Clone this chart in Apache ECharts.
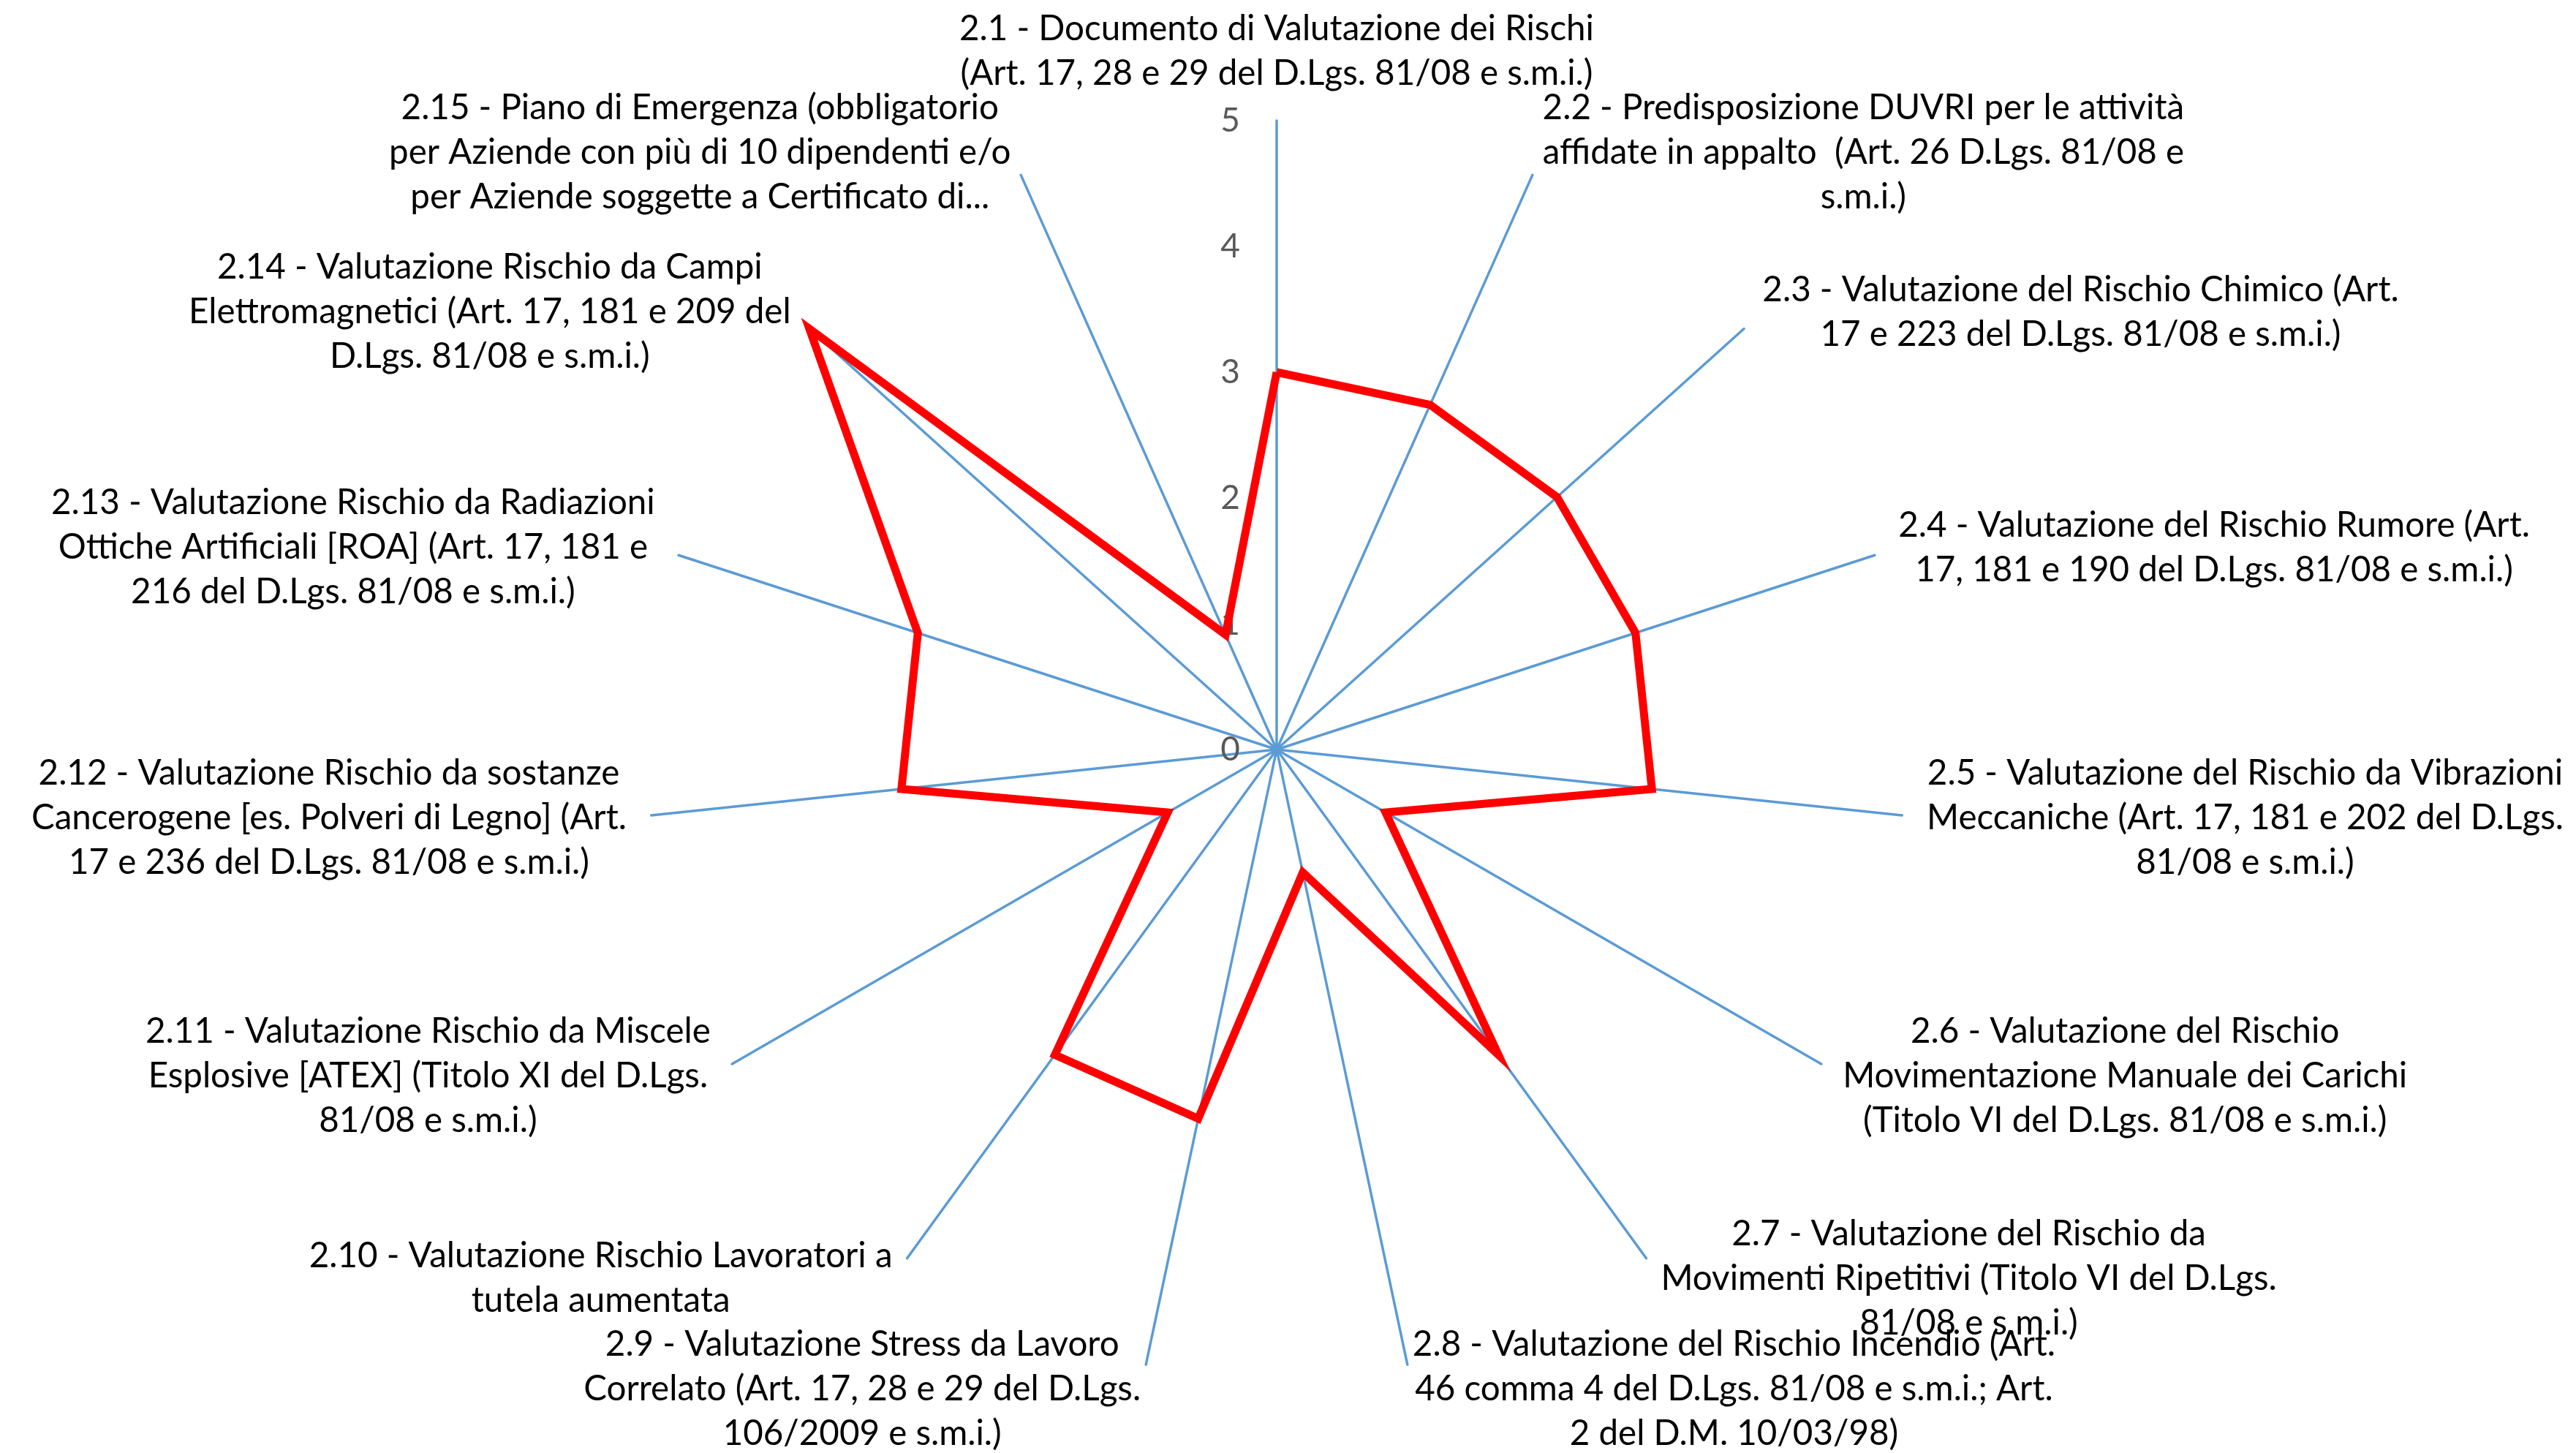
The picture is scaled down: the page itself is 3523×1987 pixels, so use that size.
<!DOCTYPE html>
<html>
<head>
<meta charset="utf-8">
<script src="https://cdn.jsdelivr.net/npm/echarts@6/dist/echarts.min.js"></script>
<style>
html,body{margin:0;padding:0;background:#ffffff;}
#chart{width:3523px;height:1987px;}
</style>
</head>
<body>
<div id="chart"></div>
<script>
// ---- Data (clockwise order starting at top) ----
const categories = [
  "2.1 - Documento di Valutazione dei Rischi\n(Art. 17, 28 e 29 del D.Lgs. 81/08 e s.m.i.)",
  "2.2 - Predisposizione DUVRI per le attività\naffidate in appalto  (Art. 26 D.Lgs. 81/08 e\ns.m.i.)",
  "2.3 - Valutazione del Rischio Chimico (Art.\n17 e 223 del D.Lgs. 81/08 e s.m.i.)",
  "2.4 - Valutazione del Rischio Rumore (Art.\n17, 181 e 190 del D.Lgs. 81/08 e s.m.i.)",
  "2.5 - Valutazione del Rischio da Vibrazioni\nMeccaniche (Art. 17, 181 e 202 del D.Lgs.\n81/08 e s.m.i.)",
  "2.6 - Valutazione del Rischio\nMovimentazione Manuale dei Carichi\n(Titolo VI del D.Lgs. 81/08 e s.m.i.)",
  "2.7 - Valutazione del Rischio da\nMovimenti Ripetitivi (Titolo VI del D.Lgs.\n81/08 e s.m.i.)",
  "2.8 - Valutazione del Rischio Incendio (Art.\n46 comma 4 del D.Lgs. 81/08 e s.m.i.; Art.\n2 del D.M. 10/03/98)",
  "2.9 - Valutazione Stress da Lavoro\nCorrelato (Art. 17, 28 e 29 del D.Lgs.\n106/2009 e s.m.i.)",
  "2.10 - Valutazione Rischio Lavoratori a\ntutela aumentata",
  "2.11 - Valutazione Rischio da Miscele\nEsplosive [ATEX] (Titolo XI del D.Lgs.\n81/08 e s.m.i.)",
  "2.12 - Valutazione Rischio da sostanze\nCancerogene [es. Polveri di Legno] (Art.\n17 e 236 del D.Lgs. 81/08 e s.m.i.)",
  "2.13 - Valutazione Rischio da Radiazioni\nOttiche Artificiali [ROA] (Art. 17, 181 e\n216 del D.Lgs. 81/08 e s.m.i.)",
  "2.14 - Valutazione Rischio da Campi\nElettromagnetici (Art. 17, 181 e 209 del\nD.Lgs. 81/08 e s.m.i.)",
  "2.15 - Piano di Emergenza (obbligatorio\nper Aziende con più di 10 dipendenti e/o\nper Aziende soggette a Certificato di..."
];
const values = [3, 3, 3, 3, 3, 1, 3, 1, 3, 3, 1, 3, 3, 5, 1];
const axisMin = 0;
const axisMax = 5;
const tickLabels = ["0", "1", "2", "3", "4", "5"];

// ECharts radar runs counter-clockwise; reorder so the picture runs clockwise.
const order = [0];
for (let i = categories.length - 1; i >= 1; i--) order.push(i);

const FONT = "Lato";
const indicators = order.map(function (i, k) {
  const ind = { name: categories[i], min: axisMin, max: axisMax };
  if (k === 0) {
    ind.axisLabel = {
      show: true,
      color: "#595959",
      fontSize: 46,
      fontFamily: FONT,
      margin: 50,
      formatter: function (v) { return tickLabels[Math.round(v)]; }
    };
  }
  return ind;
});
const seriesValues = order.map(function (i) { return values[i]; });

const chart = echarts.init(document.getElementById("chart"), null, { renderer: "canvas" });
const option = {
  backgroundColor: "#ffffff",
  animation: false,
  radar: {
    center: [1746, 1025],
    radius: 860,
    startAngle: 90,
    splitNumber: 5,
    indicator: indicators,
    nameGap: 34,
    axisName: {
      color: "#000000",
      fontSize: 47.5,
      fontFamily: FONT,
      lineHeight: 61,
      formatter: function (v) {
        return v.split("\n").map(function (l) { return "{c|" + l + "}"; }).join("\n");
      },
      rich: {
        c: { align: "center", fontSize: 47.5, fontFamily: FONT, lineHeight: 61, color: "#000000" }
      }
    },
    axisLine: { show: true, lineStyle: { color: "#5B9BD5", width: 3.5 } },
    axisTick: { show: false },
    axisLabel: { show: false },
    splitLine: { show: false },
    splitArea: { show: false }
  },
  series: [{
    type: "radar",
    symbol: "none",
    lineStyle: { color: "#FF0000", width: 11, join: "miter", miterLimit: 10 },
    data: [{ value: seriesValues }]
  }]
};
chart.setOption(option);
</script>
</body>
</html>
